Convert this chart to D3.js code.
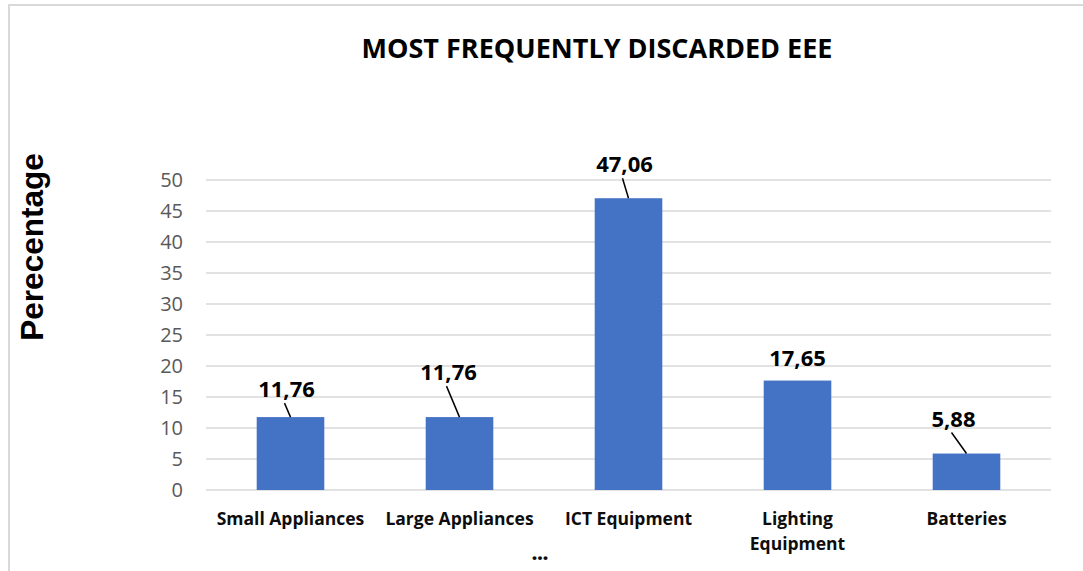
<!DOCTYPE html>
<html>
<head>
<meta charset="utf-8">
<script src="https://cdnjs.cloudflare.com/ajax/libs/d3/7.8.5/d3.min.js"></script>
<style>
  body { margin: 0; background: #fff; }
</style>
</head>
<body>
<div id="chart"></div>
<script>
// data
var categories = ['Small Appliances', 'Large Appliances', 'ICT Equipment', 'Lighting Equipment', 'Batteries'];
var values = [11.76, 11.76, 47.06, 17.65, 5.88];
var valueLabels = ['11,76', '11,76', '47,06', '17,65', '5,88'];
var yTicks = [0, 5, 10, 15, 20, 25, 30, 35, 40, 45, 50];

// label placement (offset from bar centre / bar top), like the Excel chart
var labelShift = [[-4, -20], [-11, -37], [-4, -26], [0, -15], [-13, -27]];

var W = 1083, H = 571;
var font = '"Open Sans", sans-serif';

var svg = d3.select('#chart')
            .append('svg')
            .attr('width', W)
            .attr('height', H)
            .style('background-color', 'white');

// chart frame
svg.append('path')
   .attr('d', 'M9,' + H + 'V5H' + W)
   .style('fill', 'none')
   .style('stroke', '#d9d9d9')
   .style('stroke-width', 2);

var x = d3.scaleBand().domain(categories).range([206, 1051]);
var y = d3.scaleLinear().domain([0, 50]).range([490, 180]);
var barW = x.bandwidth() * 0.4;

// gridlines
svg.append('g')
   .selectAll('line')
   .data(yTicks)
   .enter()
   .append('line')
   .attr('x1', 206)
   .attr('x2', 1051)
   .attr('y1', function(d){ return y(d); })
   .attr('y2', function(d){ return y(d); })
   .style('stroke', '#d9d9d9')
   .style('stroke-width', 1.5);

// y tick labels
svg.append('g')
   .selectAll('text')
   .data(yTicks)
   .enter()
   .append('text')
   .attr('x', 183)
   .attr('y', function(d){ return y(d); })
   .attr('dy', '0.35em')
   .attr('text-anchor', 'end')
   .style('font-family', font)
   .style('font-size', '20px')
   .style('fill', '#595959')
   .text(function(d){ return d; });

// bars
svg.append('g')
   .selectAll('rect')
   .data(values)
   .enter()
   .append('rect')
   .attr('x', function(d, i){ return x(categories[i]) + (x.bandwidth() - barW) / 2; })
   .attr('y', function(d){ return y(d); })
   .attr('width', barW)
   .attr('height', function(d){ return y(0) - y(d); })
   .style('fill', '#4472c4');

// value labels + leader lines
var lab = svg.append('g');
values.forEach(function(v, i){
  var cx = x(categories[i]) + x.bandwidth() / 2;
  var top = y(v);
  var lx = cx + labelShift[i][0];
  var ly = top + labelShift[i][1];
  lab.append('text')
     .attr('x', lx)
     .attr('y', ly)
     .attr('text-anchor', 'middle')
     .style('font-family', font)
     .style('font-weight', 'bold')
     .style('font-size', '22px')
     .style('fill', '#000')
     .text(valueLabels[i]);
  if (labelShift[i][1] < -18) {
    lab.append('line')
       .attr('x1', lx - 2)
       .attr('y1', ly + 6)
       .attr('x2', cx)
       .attr('y2', top)
       .style('stroke', '#000')
       .style('stroke-width', 1.5);
  }
});

// category labels (wrap long ones like Excel)
var wraps = { 'Lighting Equipment': ['Lighting', 'Equipment'] };
var cat = svg.append('g');
categories.forEach(function(c){
  var lines = wraps[c] || [c];
  var t = cat.append('text')
     .attr('text-anchor', 'middle')
     .style('font-family', font)
     .style('font-weight', 'bold')
     .style('font-size', '17.5px')
     .style('fill', '#0d0d0d');
  lines.forEach(function(l, k){
    t.append('tspan')
     .attr('x', x(c) + x.bandwidth() / 2)
     .attr('y', 525 + k * 25)
     .text(l);
  });
});

// axis title placeholder
svg.append('text')
   .attr('x', 540)
   .attr('y', 560)
   .attr('text-anchor', 'middle')
   .style('font-family', font)
   .style('font-weight', 800)
   .style('font-size', '19px')
   .style('fill', '#0d0d0d')
   .text('...');

// title
svg.append('text')
   .attr('x', 597)
   .attr('y', 58)
   .attr('text-anchor', 'middle')
   .style('font-family', font)
   .style('font-weight', 'bold')
   .style('font-size', '27px')
   .style('fill', '#000')
   .text('MOST FREQUENTLY DISCARDED EEE');

// y axis title
svg.append('text')
   .attr('transform', 'translate(43,247) rotate(-90)')
   .attr('text-anchor', 'middle')
   .style('font-family', '"Liberation Sans", Arial, sans-serif')
   .style('font-weight', 'bold')
   .style('font-size', '31.5px')
   .style('fill', '#000')
   .text('Perecentage');
</script>
</body>
</html>
